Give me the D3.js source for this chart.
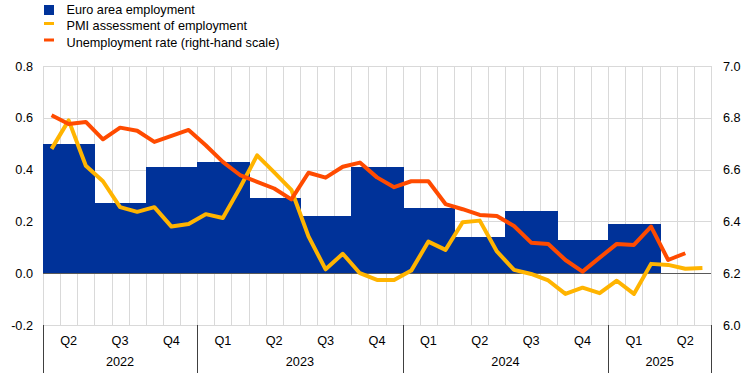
<!DOCTYPE html>
<html>
<head>
<meta charset="utf-8">
<script src="https://cdn.jsdelivr.net/npm/d3@7"></script>
<style>
  body { margin: 0; background: #fff; }
  svg { display: block; font-family: "Liberation Sans", Arial, sans-serif; }
</style>
</head>
<body>
<div class="chart"></div>
<script>
// quarterly employment growth, 2022 Q2 .. 2025 Q1
const quarters = ["Q2", "Q3", "Q4", "Q1", "Q2", "Q3", "Q4", "Q1", "Q2", "Q3", "Q4", "Q1", "Q2"];
const years = ["2022", "2023", "2024", "2025"];
const yearQuarters = [3, 4, 4, 2]; // quarters shown for each year
const employment = [0.50, 0.27, 0.41, 0.43, 0.29, 0.22, 0.41, 0.25, 0.14, 0.24, 0.13, 0.19];

// monthly, Apr 2022 .. Jun 2025
const pmi = [0.48, 0.59, 0.415, 0.355, 0.255, 0.237, 0.255, 0.18, 0.19, 0.228, 0.213, 0.33,
    0.455, 0.389, 0.322, 0.142, 0.015, 0.075, 0.0, -0.026, -0.026, 0.01, 0.122, 0.09,
    0.197, 0.203, 0.084, 0.013, -0.003, -0.028, -0.08, -0.056, -0.077, -0.029, -0.08, 0.036,
    0.032, 0.017, 0.02];
// monthly, Apr 2022 .. May 2025
const unemployment = [6.81, 6.776, 6.784, 6.717, 6.762, 6.75, 6.707, 6.73, 6.753, 6.694, 6.63, 6.579,
    6.553, 6.527, 6.485, 6.588, 6.569, 6.611, 6.627, 6.57, 6.532, 6.555, 6.555, 6.467,
    6.447, 6.425, 6.421, 6.382, 6.318, 6.313, 6.251, 6.206, 6.26, 6.313, 6.309, 6.38,
    6.251, 6.277];

const leftTicks = [-0.2, 0.0, 0.2, 0.4, 0.6, 0.8];
const rightTicks = [6.0, 6.2, 6.4, 6.6, 6.8, 7.0];

const legendItems = [
    {label: "Euro area employment", color: "#003299", type: "box"},
    {label: "PMI assessment of employment", color: "#FFB400", type: "line"},
    {label: "Unemployment rate (right-hand scale)", color: "#FF4B00", type: "line"}
];

function drawChart() {
    const width = 744;
    const height = 373;
    const plotLeft = 43, plotRight = 711, plotTop = 66, plotBottom = 325;
    const nMonths = quarters.length * 3;

    const svg = d3.select('.chart')
        .append('svg')
        .attr('width', width)
        .attr('height', height)

    const x = d3.scaleLinear().domain([0, nMonths]).range([plotLeft, plotRight]);
    const y = d3.scaleLinear().domain([-0.2, 0.8]).range([plotBottom, plotTop]);
    const y2 = d3.scaleLinear().domain([6.0, 7.0]).range([plotBottom, plotTop]);

    // grid
    svg.append("g")
        .selectAll("line")
        .data(d3.range(nMonths + 1))
        .enter()
        .append("line")
        .attr("x1", d => Math.round(x(d)) + 0.5).attr("x2", d => Math.round(x(d)) + 0.5)
        .attr("y1", plotTop).attr("y2", plotBottom)
        .attr("stroke", "#d9d9d9")
        .attr("stroke-width", 1)

    svg.append("g")
        .selectAll("line")
        .data(leftTicks)
        .enter()
        .append("line")
        .attr("x1", plotLeft).attr("x2", plotRight)
        .attr("y1", d => Math.round(y(d)) + 0.5).attr("y2", d => Math.round(y(d)) + 0.5)
        .attr("stroke", "#d9d9d9")
        .attr("stroke-width", 1)

    // bars, snapped to whole pixels so no grid shows between them
    svg.selectAll("rect.bar")
        .data(employment)
        .enter()
        .append("rect")
        .attr("class", "bar")
        .attr("x", (d, i) => Math.round(x(i * 3)))
        .attr("width", (d, i) => Math.round(x(i * 3 + 3)) - Math.round(x(i * 3)) + 1)
        .attr("y", d => Math.round(y(d)))
        .attr("height", d => Math.round(y(0)) - Math.round(y(d)))
        .attr("fill", "#003299")

    // zero line
    svg.append("line")
        .attr("x1", plotLeft).attr("x2", plotRight)
        .attr("y1", Math.round(y(0)) + 0.5).attr("y2", Math.round(y(0)) + 0.5)
        .attr("stroke", "#595959")
        .attr("stroke-width", 1)

    // lines
    const pmiLine = d3.line()
        .x((d, i) => x(i + 0.5))
        .y(d => y(d));
    const unempLine = d3.line()
        .x((d, i) => x(i + 0.5))
        .y(d => y2(d));

    svg.append("path")
        .datum(pmi)
        .attr("d", pmiLine)
        .attr("fill", "none")
        .attr("stroke", "#FFB400")
        .attr("stroke-width", 4)
        .attr("stroke-linejoin", "round")

    svg.append("path")
        .datum(unemployment)
        .attr("d", unempLine)
        .attr("fill", "none")
        .attr("stroke", "#FF4B00")
        .attr("stroke-width", 4)
        .attr("stroke-linejoin", "round")

    // axis labels
    const fontSize = "12.7px";
    svg.append("g")
        .selectAll("text")
        .data(leftTicks)
        .enter()
        .append("text")
        .text(d => d.toFixed(1))
        .attr("x", 33)
        .attr("y", d => y(d) + 4.5)
        .attr("text-anchor", "end")
        .attr("font-size", fontSize)
        .attr("fill", "#000")

    svg.append("g")
        .selectAll("text")
        .data(rightTicks)
        .enter()
        .append("text")
        .text(d => d.toFixed(1))
        .attr("x", 723)
        .attr("y", d => y2(d) + 4.5)
        .attr("text-anchor", "start")
        .attr("font-size", fontSize)
        .attr("fill", "#000")

    // category axis
    svg.append("g")
        .selectAll("text")
        .data(quarters)
        .enter()
        .append("text")
        .text(d => d)
        .attr("x", (d, i) => x(i * 3 + 1.5))
        .attr("y", 344.5)
        .attr("text-anchor", "middle")
        .attr("font-size", fontSize)

    let start = 0;
    const yearSpans = years.map((yr, i) => {
        const s = start;
        start += yearQuarters[i] * 3;
        return {year: yr, from: s, to: start};
    });

    svg.append("g")
        .selectAll("text")
        .data(yearSpans)
        .enter()
        .append("text")
        .text(d => d.year)
        .attr("x", d => x((d.from + d.to) / 2))
        .attr("y", 366)
        .attr("text-anchor", "middle")
        .attr("font-size", fontSize)

    const seps = [0].concat(yearSpans.map(d => d.to));
    svg.append("g")
        .selectAll("line")
        .data(seps)
        .enter()
        .append("line")
        .attr("x1", d => Math.round(x(d)) + 0.5).attr("x2", d => Math.round(x(d)) + 0.5)
        .attr("y1", plotBottom).attr("y2", height)
        .attr("stroke", "#404040")
        .attr("stroke-width", 1)

    // legend
    const legend = svg.append("g")
        .selectAll("g")
        .data(legendItems)
        .enter()
        .append("g")
        .attr("transform", (d, i) => "translate(44," + (i * 16.5) + ")")

    legend.append("rect")
        .attr("x", 0)
        .attr("y", d => d.type == "box" ? 5 : 5.5)
        .attr("width", 10)
        .attr("height", d => d.type == "box" ? 10 : 3)
        .attr("fill", d => d.color)

    legend.append("text")
        .text(d => d.label)
        .attr("x", 22.5)
        .attr("y", 13.7)
        .attr("font-size", fontSize)
        .attr("fill", "#000")
}

drawChart();
</script>
</body>
</html>
